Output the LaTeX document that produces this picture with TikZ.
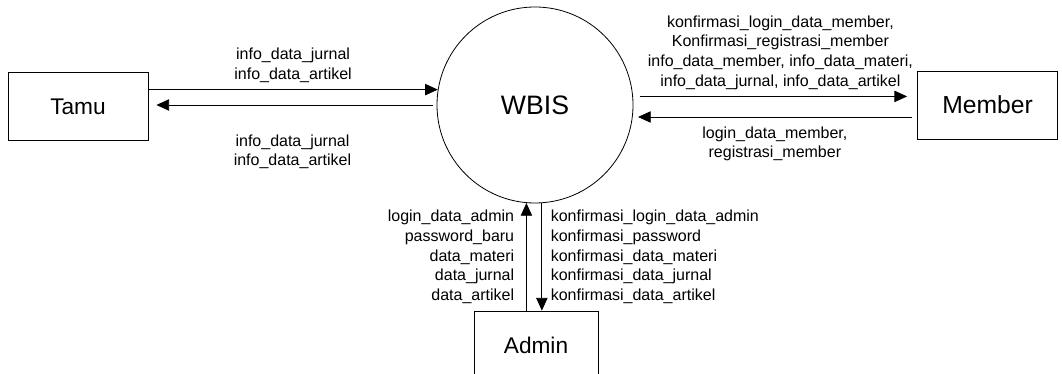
\documentclass[tikz,border=0pt]{standalone}
\usepackage{fontspec}
\setmainfont{Liberation Sans}
\usepackage{tikz}
\usetikzlibrary{arrows.meta,positioning,calc}
\tikzset{
  fl/.style={-{Triangle[length=9.5pt,width=8.5pt]},line width=0.6pt},
  ent/.style={draw,line width=0.6pt,minimum width=105pt,minimum height=51pt,font=\fontsize{17}{20}\selectfont},
  proc/.style={draw,circle,line width=0.6pt,minimum size=147pt,inner sep=0pt,font=\fontsize{20}{24}\selectfont},
  lbl/.style={font=\fontsize{12}{14.7}\selectfont,inner sep=2pt,align=center}
}

\begin{document}
\begin{tikzpicture}[x=0.75pt,y=0.75pt]
\useasboundingbox (0,0) rectangle (1062,374);
\node[proc] (wbis) at (535,269) {WBIS};
\node[ent] (tamu) at (78,267.5) {Tamu};
\node[ent,font=\fontsize{18.5}{22}\selectfont] (member) at (987.5,269) {Member};
\node[ent,minimum width=93pt] (admin) at (536,29) {Admin};
% Tamu
\draw[fl] (wbis.171 -| tamu.east) -- coordinate (t1) (wbis.171);
\draw[fl,shorten <=3pt,shorten >=6pt] (wbis.west) -- coordinate (t2) (wbis.west -| tamu.east);
\node[lbl,above=3pt of t1] (lt1) {info\_data\_jurnal\\info\_data\_artikel};
\node[lbl,below=20pt of t2] (lt2) {info\_data\_jurnal\\info\_data\_artikel};
% Member
\draw[fl,shorten <=5pt,shorten >=7.5pt] (wbis.5) -- coordinate (m1) (wbis.5 -| member.west);
\draw[fl,shorten <=4pt,shorten >=4pt] (member.west |- wbis.-7) -- coordinate (m2) (wbis.-7);
\node[lbl,above=3pt of m1,xshift=4pt] (lm1) {konfirmasi\_login\_data\_member,\\Konfirmasi\_registrasi\_member\\info\_data\_member, info\_data\_materi,\\info\_data\_jurnal, info\_data\_artikel};
\node[lbl,below=5pt of m2] (lm2) {login\_data\_member,\\registrasi\_member};
% Admin
\draw[fl] (admin.north -| wbis.265) -- coordinate (a1) (wbis.265);
\draw[fl] (wbis.274) -- coordinate (a2) (wbis.274 |- admin.north);
\node[lbl,align=right,left=7pt of a1] (la1) {login\_data\_admin\\password\_baru\\data\_materi\\data\_jurnal\\data\_artikel};
\node[lbl,align=left,right=4.5pt of a2] (la2) {konfirmasi\_login\_data\_admin\\konfirmasi\_password\\konfirmasi\_data\_materi\\konfirmasi\_data\_jurnal\\konfirmasi\_data\_artikel};
\end{tikzpicture}
\end{document}
